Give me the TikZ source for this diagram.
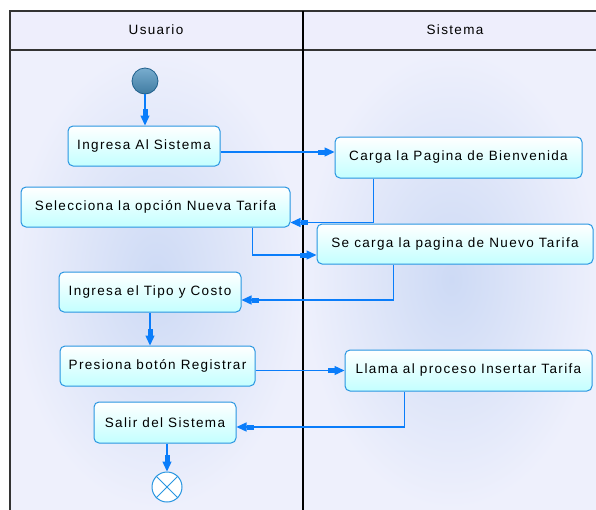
\documentclass[tikz,border=0pt]{standalone}
\usepackage{fontspec}
\setmainfont[LetterSpace=10]{Liberation Sans}
\usetikzlibrary{arrows.meta}
\definecolor{flowblue}{RGB}{10,125,250}
\definecolor{actline}{RGB}{40,150,225}
\definecolor{actfill}{RGB}{195,255,255}
\definecolor{lanein}{RGB}{205,218,245}
\definecolor{laneout}{RGB}{238,240,252}
\definecolor{headfill}{RGB}{238,238,252}
\definecolor{startfill}{RGB}{75,145,190}
\definecolor{startline}{RGB}{30,95,140}
\begin{document}
\begin{tikzpicture}[x=1pt,y=-1pt,font=\fontsize{13.5}{15}\selectfont,
  act/.style={draw=actline,line width=1pt,rounded corners=5pt,top color=white,bottom color=actfill,minimum height=40pt,inner sep=2pt},
  flow/.style={draw=flowblue,line width=1.3pt,-{Rectangle[length=7pt,width=5pt] Triangle[length=10pt,width=9pt]}}]
  \useasboundingbox (0,0) rectangle (596,509);
  % lanes
  \shade[inner color=lanein,outer color=laneout] (10,50) rectangle (303,509);
  \shade[inner color=lanein,outer color=laneout] (303,50) rectangle (600,509);
  \fill[headfill] (10,11) rectangle (600,50);
  \draw[line width=1.2pt,black!80] (10,515) -- (10,11) -- (600,11);
  \draw[line width=1.2pt,black!80] (10,50) -- (600,50);
  \draw[line width=1.6pt] (303,11) -- (303,515);
  \node (usuario) at (156,30){Usuario};
  \node (sistema) at (455,30){Sistema};
  % actions
  \node[circle,draw=startline,line width=0.8pt,top color=startfill!75!white,bottom color=startfill!85!black,minimum size=26pt,inner sep=0pt] (inicio) at (145,81){};
  \node[act,minimum width=152pt] (ingresa) at (144,146){Ingresa Al Sistema};
  \node[act,minimum width=269pt] (selecciona) at (155.5,207){Selecciona la opción Nueva Tarifa};
  \node[act,minimum width=247pt,minimum height=41pt] (carga) at (458.5,157.5){Carga la Pagina de Bienvenida};
  \node[act,minimum width=276pt] (secarga) at (455,244){Se carga la pagina de Nuevo Tarifa};
  \node[act,minimum width=182pt] (ingtipo) at (150,292){Ingresa el Tipo y Costo};
  \node[act,minimum width=195pt] (presiona) at (157.5,366){Presiona botón Registrar};
  \node[act,minimum width=247pt,minimum height=41pt] (llama) at (468.5,370.5){Llama al proceso Insertar Tarifa};
  \node[act,minimum width=142pt,minimum height=41pt] (salir) at (165,422.5){Salir del Sistema};
  \node[circle,draw=actline,fill=white,line width=1pt,minimum size=30pt,inner sep=0pt] (fin) at (167,487){};
  \draw[actline,line width=1pt] (fin.45) -- (fin.225) (fin.135) -- (fin.-45);
  % flows
  \draw[flow] (inicio) -- (inicio |- ingresa.north);
  \draw[flow] ([yshift=-6pt]ingresa.east) -- ([yshift=-6pt]ingresa.east -| carga.west);
  \draw[flow] ([xshift=39pt]carga.south west) |- ([yshift=5pt]selecciona.south east);
  \draw[flow] ([xshift=-38pt]selecciona.south east) |- ([yshift=-11pt]secarga.west);
  \draw[flow] ([xshift=77pt]secarga.south west) |- ([yshift=-8pt]ingtipo.east);
  \draw[flow] (ingtipo.south) -- (ingtipo.south |- presiona.north);
  \draw[flow] (presiona.east |- llama.west) -- (llama.west);
  \draw[flow] ([xshift=60pt]llama.south west) |- ([yshift=-4.5pt]salir.east);
  \draw[flow] (salir.south -| fin) -- (fin);
\end{tikzpicture}
\end{document}
